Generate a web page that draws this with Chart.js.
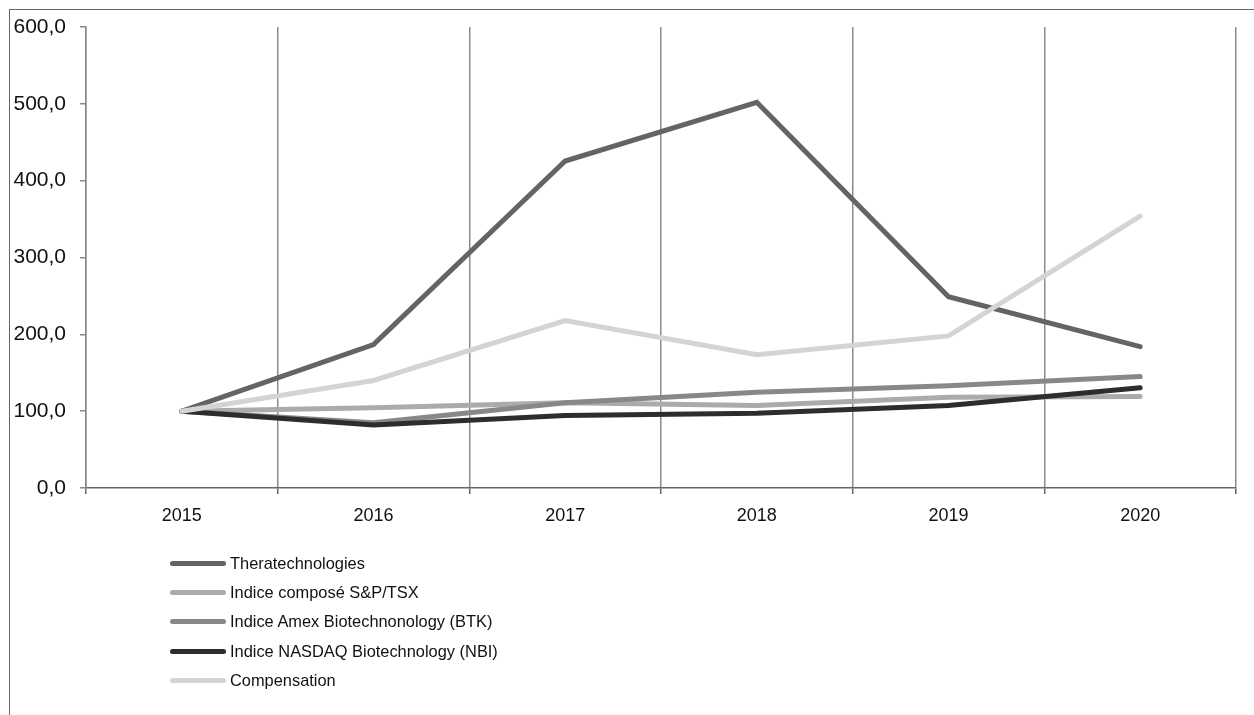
<!DOCTYPE html>
<html>
<head>
<meta charset="utf-8">
<script src="https://cdn.jsdelivr.net/npm/chart.js@4/dist/chart.umd.min.js"></script>
<style>
  html, body { margin: 0; padding: 0; background: #fff; }
  #wrap { position: relative; width: 1254px; height: 715px; overflow: hidden; font-family: "Liberation Sans", Arial, sans-serif; }
  #frame { position: absolute; left: 9px; top: 9px; width: 1300px; height: 800px; border-top: 1px solid #666; border-left: 1px solid #666; }
  canvas { position: absolute; left: 0; top: 0; }
  #legend { position: absolute; left: 170px; top: 549px; }
  .item { height: 29.2px; display: flex; align-items: center; font-size: 16.4px; color: #111; }
  .swatch { width: 56px; height: 5px; border-radius: 3px; margin-right: 4px; }
</style>
</head>
<body>
<div id="wrap">
  <div id="frame"></div>
  <canvas id="c" width="1254" height="715"></canvas>
  <div id="legend"></div>
</div>
<script>
const years = ['2015', '2016', '2017', '2018', '2019', '2020'];
const seriesNames = [
  'Theratechnologies',
  'Indice composé S&P/TSX',
  'Indice Amex Biotechnonology (BTK)',
  'Indice NASDAQ Biotechnology (NBI)',
  'Compensation'
];
const thera = [100, 186.6, 425.6, 502.0, 249.0, 184.0];
const tsx   = [100, 104.4, 111.0, 107.4, 118.2, 119.0];
const btk   = [100, 85.0, 111.0, 124.7, 133.0, 145.0];
const nbi   = [100, 82.0, 94.4, 97.4, 107.4, 130.4];
const comp  = [100, 139.9, 217.8, 173.6, 198.0, 354.0];
const yTickValues = [0, 100, 200, 300, 400, 500, 600];

const colors = ['#646464', '#ababad', '#88888b', '#2e2c2d', '#d4d4d4'];
const values = [thera, tsx, btk, nbi, comp];

const datasets = values.map((v, i) => ({
  label: seriesNames[i],
  data: v,
  borderColor: colors[i],
  backgroundColor: colors[i],
  borderWidth: 5,
  pointRadius: 0,
  pointHoverRadius: 0,
  tension: 0,
  fill: false,
  borderCapStyle: 'round',
  borderJoinStyle: 'miter',
  order: values.length - 1 - i
}));

const fmt = v => v.toFixed(1).replace('.', ',');

new Chart(document.getElementById('c'), {
  type: 'line',
  data: { labels: years, datasets },
  options: {
    responsive: false,
    animation: false,
    events: [],
    layout: { padding: { left: 0, right: 18, top: 27, bottom: 187 } },
    plugins: { legend: { display: false }, tooltip: { enabled: false } },
    scales: {
      x: {
        offset: true,
        grid: { display: true, offset: true, color: '#8c8c8c', lineWidth: 1.5, drawTicks: true, tickLength: 6, tickColor: '#666' },
        border: { display: true, color: '#666', width: 1.5 },
        ticks: { color: '#111', font: { family: '"Liberation Sans", Arial, sans-serif', size: 18 }, padding: 11, maxRotation: 0 },
        afterFit: s => { s.height = 40; }
      },
      y: {
        min: 0, max: 600,
        afterBuildTicks: s => { s.ticks = yTickValues.map(v => ({ value: v })); },
        grid: { drawOnChartArea: false, drawTicks: true, tickLength: 6, color: '#888', lineWidth: 1.5 },
        border: { display: true, color: '#888', width: 1.5 },
        ticks: { color: '#111', font: { family: '"Liberation Sans", Arial, sans-serif', size: 21 }, padding: 14, callback: v => fmt(v) },
        afterFit: s => { s.width = 86; }
      }
    }
  }
});

const leg = document.getElementById('legend');
seriesNames.forEach((n, i) => {
  const it = document.createElement('div');
  it.className = 'item';
  const sw = document.createElement('div');
  sw.className = 'swatch';
  sw.style.background = colors[i];
  const tx = document.createElement('span');
  tx.textContent = n;
  it.appendChild(sw); it.appendChild(tx);
  leg.appendChild(it);
});
</script>
</body>
</html>
